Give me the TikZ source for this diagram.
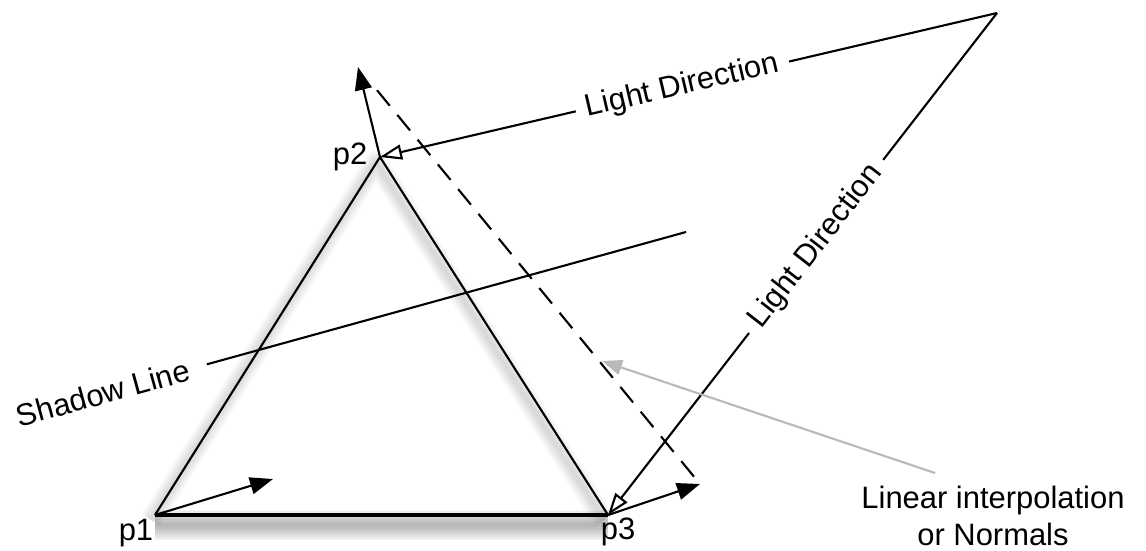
\documentclass[tikz,border=0pt]{standalone}
\usepackage{fontspec}
\setmainfont{Liberation Sans}
\usetikzlibrary{arrows.meta}

\begin{document}
\begin{tikzpicture}[
    edge/.style={line width=0.6pt},
    normal/.style={line width=0.6pt, -{Triangle[length=0.23cm, width=0.17cm]}},
    light/.style={line width=0.6pt, -{Triangle[open, length=0.22cm, width=0.15cm]}},
    lbl/.style={font=\fontsize{8.8}{10.5}\selectfont, inner sep=1pt},
    gap/.style={lbl, fill=white, sloped, inner sep=3pt}
]
    \useasboundingbox (0,0) rectangle (11.46,5.50);

    % vertices of the triangle
    \coordinate (p1) at (1.55,0.35);
    \coordinate (p2) at (3.80,3.93);
    \coordinate (p3) at (6.08,0.35);
    % tips of the normals
    \coordinate (n1) at (2.73,0.71);
    \coordinate (n2) at (3.58,4.83);
    \coordinate (n3) at (7.00,0.66);
    \coordinate (sun) at (9.97,5.37);
    \coordinate (sh) at (6.86,3.18);
    \coordinate (g) at (9.35,0.77);
    \coordinate (gt) at (6.02,1.89);

    % soft shadow under the edges
    \begin{scope}[transform canvas={shift={(-0.04,-0.05)}}]
        \foreach \w in {1,...,8}
            \draw[black, opacity=0.02, line width=\w*0.8pt, line join=round] (p1) -- (p2) -- (p3);
    \end{scope}
    \begin{scope}[transform canvas={shift={(0,-0.1)}}]
        \foreach \w in {1,...,8}
            \draw[black, opacity=0.04, line width=\w*1.1pt] (p1) -- (p3);
    \end{scope}

    % triangle
    \draw[edge] (p1) -- (p2) -- (p3);
    \draw[line width=1.1pt] (p1) -- (p3);

    % normals and interpolation
    \draw[normal] (p1) -- (n1);
    \draw[normal] (p2) -- (n2);
    \draw[normal] (p3) -- (n3);
    \draw[edge, dash pattern=on 5.7pt off 3.4pt, shorten <=0.3cm] (n2) -- (n3);

    % light direction
    \draw[light] (sun) -- node[gap, pos=0.51] {Light Direction} (p2);
    \draw[light] (sun) -- node[gap, pos=0.465] {Light Direction} (p3);

    % shadow line
    \node[lbl, rotate=15.4, inner sep=5pt] (shadow) at (1.03,1.57) {Shadow Line};
    \draw[edge] (shadow) -- (sh);

    \node[lbl] (l1) at (1.36,0.17) {p1};
    \node[lbl] (l2) at (3.50,3.93) {p2};
    \node[lbl] (l3) at (6.18,0.18) {p3};

    \node[lbl, align=center] (lin) at (9.93,0.34) {Linear interpolation\\or Normals};
    \draw[gray!55, line width=0.6pt, -{Triangle[length=0.2cm, width=0.15cm]}] (g) -- (gt);
\end{tikzpicture}
\end{document}
